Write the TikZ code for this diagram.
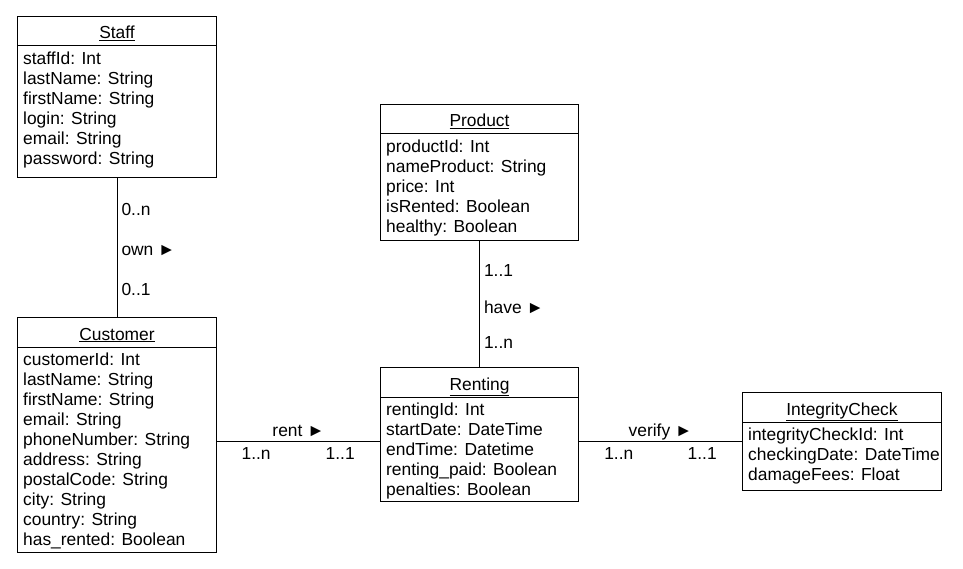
\documentclass[tikz,border=0pt]{standalone}
\usepackage{fontspec}
\setmainfont{Liberation Sans}
\usetikzlibrary{arrows.meta}
\newcommand{\umlfont}{\fontsize{17.4}{20}\selectfont}

\begin{document}
\begin{tikzpicture}[x=1pt,y=-1pt,
  cls/.style={draw,line width=1pt,anchor=north west,inner sep=0pt,minimum width=199},
  title/.style={anchor=base,inner sep=0pt,font=\umlfont},
  attrs/.style={anchor=north west,inner sep=0pt,align=left,font=\umlfont},
  mult/.style={anchor=base,inner sep=0pt,font=\umlfont},
  side/.style={mult,anchor=base west,xshift=4pt},
  link/.style={line width=1pt}]
\useasboundingbox (0,0) rectangle (963,569);

% classes
\node[cls,minimum height=161] (staff) at (17,16) {};
\draw[link] ([yshift=-30pt]staff.north west) -- ([yshift=-30pt]staff.north east);
\node[title] (staffT) at ([yshift=-23pt]staff.north) {\underline{Staff}};
\node[attrs] (staffA) at ([xshift=6pt,yshift=-34pt]staff.north west)
  {\strut staffId: Int\\lastName: String\\firstName: String\\login: String\\email: String\\password: String};

\node[cls,minimum height=136,minimum width=198] (product) at (380,104) {};
\draw[link] ([yshift=-30pt]product.north west) -- ([yshift=-30pt]product.north east);
\node[title] (productT) at ([yshift=-23pt]product.north) {\underline{Product}};
\node[attrs] (productA) at ([xshift=6pt,yshift=-34pt]product.north west)
  {\strut productId: Int\\nameProduct: String\\price: Int\\isRented: Boolean\\healthy: Boolean};

\node[cls,minimum height=235] (customer) at (17,317) {};
\draw[link] ([yshift=-30pt]customer.north west) -- ([yshift=-30pt]customer.north east);
\node[title] (customerT) at ([yshift=-23pt]customer.north) {\underline{Customer}};
\node[attrs] (customerA) at ([xshift=6pt,yshift=-34pt]customer.north west)
  {\strut customerId: Int\\lastName: String\\firstName: String\\email: String\\phoneNumber: String\\address: String\\postalCode: String\\city: String\\country: String\\has\_rented: Boolean};

\node[cls,minimum height=134,minimum width=198] (renting) at (380,367) {};
\draw[link] ([yshift=-30pt]renting.north west) -- ([yshift=-30pt]renting.north east);
\node[title] (rentingT) at ([yshift=-23pt]renting.north) {\underline{Renting}};
\node[attrs] (rentingA) at ([xshift=6pt,yshift=-34pt]renting.north west)
  {\strut rentingId: Int\\startDate: DateTime\\endTime: Datetime\\renting\_paid: Boolean\\penalties: Boolean};

\node[cls,minimum height=98] (check) at (742,392) {};
\draw[link] ([yshift=-30pt]check.north west) -- ([yshift=-30pt]check.north east);
\node[title] (checkT) at ([yshift=-23pt]check.north) {\underline{IntegrityCheck}};
\node[attrs] (checkA) at ([xshift=6pt,yshift=-34pt]check.north west)
  {\strut integrityCheckId: Int\\checkingDate: DateTime\\damageFees: Float};

% associations
\draw[link] (staff.south) -- (customer.north)
  node[side,pos=0.271] {0..n}
  node[side,pos=0.557] {own ►}
  node[side,pos=0.843] {0..1};
\draw[link] (product.south) -- (renting.north)
  node[side,pos=0.283] {1..1}
  node[side,pos=0.575] {have ►}
  node[side,pos=0.85] {1..n};
\draw[link] (customer.east |- check.west) -- (renting.west |- check.west)
  node[mult,pos=0.5,yshift=5pt] {rent ►}
  node[mult,pos=0.24,yshift=-18pt] {1..n}
  node[mult,pos=0.756,yshift=-18pt] {1..1};
\draw[link] (renting.east |- check.west) -- (check.west)
  node[mult,pos=0.5,yshift=5pt] {verify ►}
  node[mult,pos=0.244,yshift=-18pt] {1..n}
  node[mult,pos=0.756,yshift=-18pt] {1..1};
\end{tikzpicture}
\end{document}
